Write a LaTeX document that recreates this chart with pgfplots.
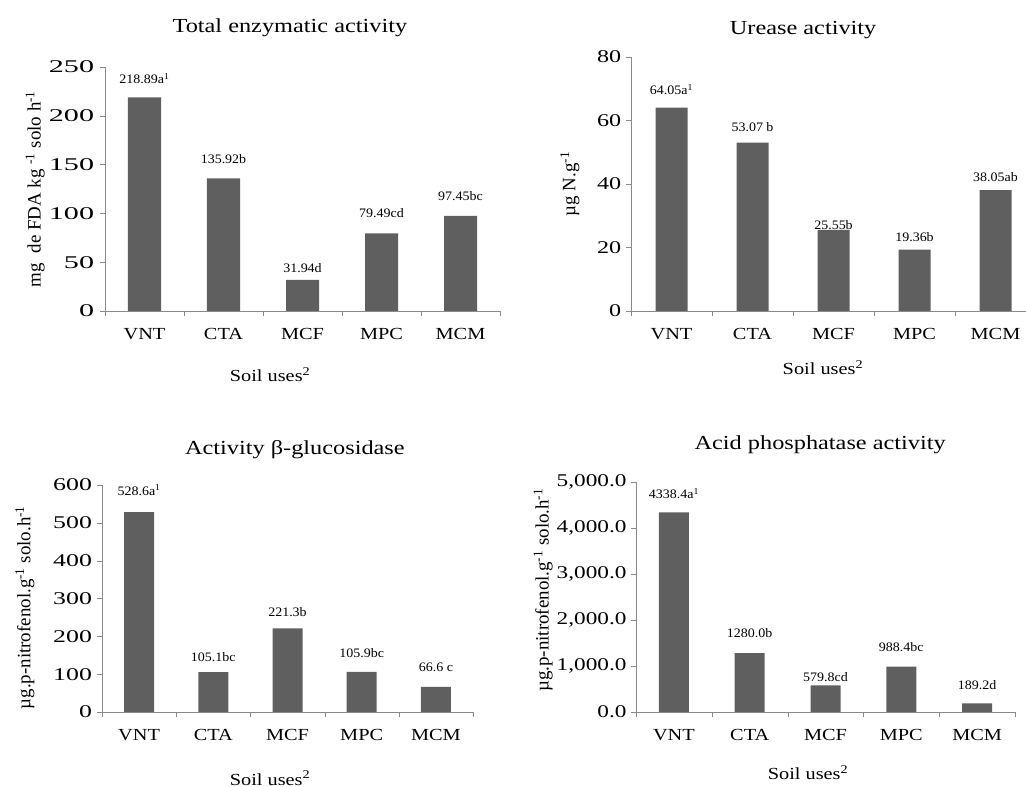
\documentclass[border=0pt]{standalone}
\usepackage{pgfplots}
\usepackage{pgfplotstable}
\usepackage{fontspec}
\setmainfont{Liberation Serif}
\pgfplotsset{compat=1.18}
\definecolor{barfill}{HTML}{5F5F5F}
\definecolor{axisgray}{HTML}{8A8A8A}

\pgfplotstableread{
x y lab off
0 218.89 {218.89a\textsuperscript{1}} 19
1 135.92 {135.92b} 19
2 31.94 {31.94d} 12
3 79.49 {79.49cd} 20
4 97.45 {97.45bc} 20
}\tabA
\pgfplotstableread{
x y lab off
0 64.05 {64.05a\textsuperscript{1}} 18
1 53.07 {53.07 b} 15
2 25.55 {25.55b} 5
3 19.36 {19.36b} 12
4 38.05 {38.05ab} 13
}\tabB
\pgfplotstableread{
x y lab off
0 528.6 {528.6a\textsuperscript{1}} 22
1 105.1 {105.1bc} 15
2 221.3 {221.3b} 16
3 105.9 {105.9bc} 19
4 66.6 {66.6 c} 19
}\tabC
\pgfplotstableread{
x y lab off
0 4338.4 {4338.4a\textsuperscript{1}} 19
1 1280.0 {1280.0b} 20
2 579.8 {579.8cd} 8
3 988.4 {988.4bc} 19
4 189.2 {189.2d} 18
}\tabD

\pgfplotsset{
  every axis title shift=0pt,
  myax/.style={
    scale only axis, ybar,
    axis lines*=left,
    axis line style={draw=axisgray},
    xmin=-0.5, xmax=4.5, ymin=0,
    xtick={0,...,4}, xticklabels={VNT,CTA,MCF,MPC,MCM},
    major x tick style={draw=none},
    minor xtick={-0.5,0.5,...,4.5},
    minor x tick style={draw=axisgray},
    y tick style={draw=axisgray},
    tick align=outside, major tick length=5bp, minor tick length=5bp,
    xtick pos=bottom, ytick pos=left,
    /pgf/number format/assume math mode=true,
    tick label style={font=\fontsize{17}{19}\selectfont, xscale=1.2},
    yticklabel style={font=\fontsize{18}{20}\selectfont},
    xticklabel style={yshift=-9bp},
    title style={font=\fontsize{20}{22}\selectfont, anchor=center, xscale=1.22},
    ylabel style={font=\fontsize{19}{21}\selectfont, anchor=center},
    xlabel style={font=\fontsize{17}{19}\selectfont, anchor=center, xscale=1.2},
    xlabel={Soil uses\textsuperscript{2}},
  },
  mybar/.style={
    fill=barfill, draw=none,
    nodes near coords, point meta=explicit symbolic,
    visualization depends on={\thisrow{off} \as \off},
    every node near coord/.append style={anchor=center, yshift=\off bp,
      font=\fontsize{13}{15}\selectfont, xscale=1.08, text=black},
  },
}

\begin{document}
\begin{tikzpicture}
\useasboundingbox (0,0) rectangle (1026bp,787bp);

\begin{axis}[myax, at={(105bp,476bp)}, anchor=south west,
  width=395bp, height=244bp, ymax=250, ytick={0,50,...,250}, bar width=33bp,
  yticklabel style={xscale=1.4},
  title={Total enzymatic  activity},
  title style={at={(axis description cs:0.468,1.16)}},
  ylabel={mg\enspace de FDA kg \textsuperscript{-1} solo h\textsuperscript{-1}},
  ylabel style={at={(axis description cs:-0.177,0.5)}},
  xlabel style={at={(axis description cs:0.418,-0.262)}}]
\addplot[mybar] table[x=x, y=y, meta=lab] {\tabA};
\end{axis}

\begin{axis}[myax, at={(631bp,476bp)}, anchor=south west,
  width=405bp, height=254bp, ymax=80, ytick={0,20,...,80}, bar width=32bp,
  yticklabel style={xscale=1.12},
  title={Urease activity},
  title style={at={(axis description cs:0.425,1.106)}},
  ylabel={µg N.g\textsuperscript{-1}},
  ylabel style={at={(axis description cs:-0.151,0.5)}},
  xlabel style={at={(axis description cs:0.474,-0.224)}}]
\addplot[mybar] table[x=x, y=y, meta=lab] {\tabB};
\end{axis}

\begin{axis}[myax, at={(102bp,75bp)}, anchor=south west,
  width=371bp, height=227bp, ymax=600, ytick={0,100,...,600}, bar width=30bp,
  yticklabel style={xscale=1.2},
  title={Activity β-glucosidase},
  title style={at={(axis description cs:0.52,1.155)}},
  ylabel={µg.p-nitrofenol.g\textsuperscript{-1} solo.h\textsuperscript{-1}},
  ylabel style={at={(axis description cs:-0.208,0.46)}},
  xlabel style={at={(axis description cs:0.453,-0.291)}}]
\addplot[mybar] table[x=x, y=y, meta=lab] {\tabC};
\end{axis}

\begin{axis}[myax, at={(636bp,75bp)}, anchor=south west,
  width=379bp, height=230bp, ymax=5000, ytick={0,1000,...,5000}, bar width=30bp,
  yticklabel style={xscale=1.08, /pgf/number format/.cd, fixed, fixed zerofill, precision=1, 1000 sep={,}},
  title={Acid phosphatase activity},
  title style={at={(axis description cs:0.486,1.16)}},
  ylabel={µg.p-nitrofenol.g\textsuperscript{-1} solo.h\textsuperscript{-1}},
  ylabel style={at={(axis description cs:-0.245,0.53)}},
  xlabel style={at={(axis description cs:0.454,-0.265)}}]
\addplot[mybar] table[x=x, y=y, meta=lab] {\tabD};
\end{axis}
\end{tikzpicture}
\end{document}
